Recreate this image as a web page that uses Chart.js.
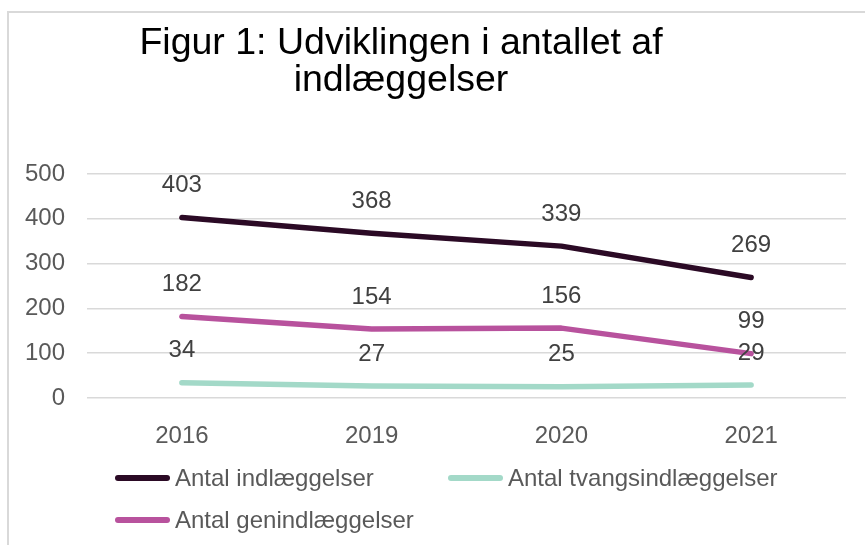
<!DOCTYPE html>
<html>
<head>
<meta charset="utf-8">
<script src="https://cdn.jsdelivr.net/npm/chart.js@4"></script>
<style>
  html, body { margin: 0; padding: 0; background: #fff; }
  body { width: 865px; height: 545px; position: relative; overflow: hidden; font-family: "Liberation Sans", Arial, sans-serif; }
  #frame { position: absolute; left: 7px; top: 11px; width: 1000px; height: 1000px; border: 2px solid #d9d9d9; box-sizing: border-box; }
  #title { position: absolute; left: 0; top: 23px; width: 802px; text-align: center; font-size: 37.5px; line-height: 37px; color: #000; }
  #chart { position: absolute; left: 0; top: 0; }
  #legend { position: absolute; left: 115px; top: 457px; display: grid; grid-template-columns: 333px auto; grid-auto-rows: 42px; }
  .item { display: flex; align-items: center; font-size: 24px; color: #595959; white-space: nowrap; }
  .swatch { width: 55px; height: 5.5px; border-radius: 3px; margin-right: 5px; }
</style>
</head>
<body>
<div id="frame"></div>
<canvas id="chart" width="865" height="545"></canvas>
<div id="title">Figur 1: Udviklingen i antallet af<br>indlæggelser</div>
<div id="legend"></div>
<script>
const years = ["2016", "2019", "2020", "2021"];
const indlaeggelser = [403, 368, 339, 269];
const tvangsindlaeggelser = [34, 27, 25, 29];
const genindlaeggelser = [182, 154, 156, 99];
const yTicks = [0, 100, 200, 300, 400, 500];

// value labels above each point
const valueLabels = {
  id: "valueLabels",
  afterDatasetsDraw(chart) {
    const ctx = chart.ctx;
    ctx.save();
    ctx.font = "24px 'Liberation Sans', Arial, sans-serif";
    ctx.fillStyle = "#404040";
    ctx.textAlign = "center";
    ctx.textBaseline = "middle";
    chart.data.datasets.forEach((ds, i) => {
      chart.getDatasetMeta(i).data.forEach((pt, j) => {
        ctx.fillText(ds.data[j], pt.x, pt.y - 32);
      });
    });
    ctx.restore();
  },
};

// html legend from the datasets
const htmlLegend = {
  id: "htmlLegend",
  afterUpdate(chart) {
    const box = document.getElementById("legend");
    box.innerHTML = "";
    chart.data.datasets.forEach((ds) => {
      const item = document.createElement("div");
      item.className = "item";
      const sw = document.createElement("span");
      sw.className = "swatch";
      sw.style.background = ds.borderColor;
      item.appendChild(sw);
      item.appendChild(document.createTextNode(ds.label));
      box.appendChild(item);
    });
  },
};

const line = (label, data, color) => ({
  label: label,
  data: data,
  borderColor: color,
  backgroundColor: color,
  borderWidth: 5.5,
  borderCapStyle: "round",
  borderJoinStyle: "round",
  pointRadius: 0,
  tension: 0,
});

new Chart(document.getElementById("chart"), {
  type: "line",
  data: {
    labels: years,
    datasets: [
      line("Antal indlæggelser", indlaeggelser, "#2b0a25"),
      line("Antal tvangsindlæggelser", tvangsindlaeggelser, "#a3d9c8"),
      line("Antal genindlæggelser", genindlaeggelser, "#b8529d"),
    ],
  },
  options: {
    responsive: false,
    animation: false,
    layout: { padding: { top: 174, right: 19, left: 0, bottom: 97 } },
    plugins: { legend: { display: false }, title: { display: false }, tooltip: { enabled: false } },
    scales: {
      x: {
        offset: true,
        grid: { display: false },
        border: { display: false },
        ticks: { color: "#595959", font: { size: 24, family: "'Liberation Sans', Arial" }, padding: 16 },
        afterFit(scale) { scale.height = 50; },
      },
      y: {
        min: 0,
        max: 500,
        afterBuildTicks(scale) { scale.ticks = yTicks.map((v) => ({ value: v })); },
        grid: { color: "#d9d9d9", lineWidth: 1.5, drawTicks: false },
        border: { display: false },
        ticks: { color: "#595959", font: { size: 24, family: "'Liberation Sans', Arial" }, padding: 22 },
        afterFit(scale) { scale.width = 87; },
      },
    },
  },
  plugins: [valueLabels, htmlLegend],
});
</script>
</body>
</html>
